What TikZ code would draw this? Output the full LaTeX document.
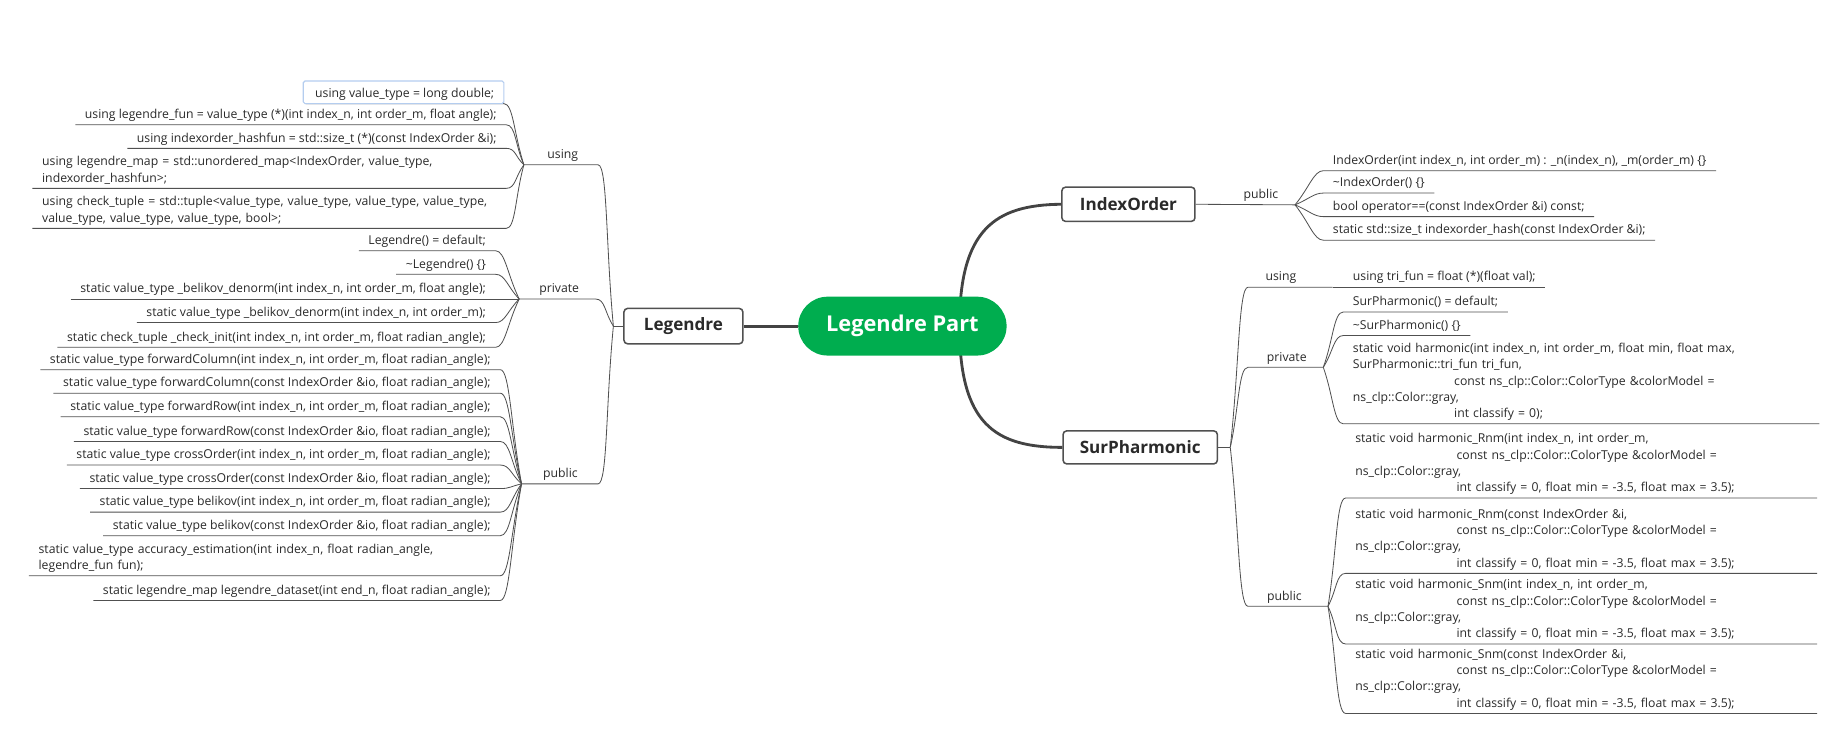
\documentclass[tikz,border=0pt]{standalone}
\usepackage{fontspec}
\setmainfont{Open Sans}
\usetikzlibrary{calc}
\definecolor{lineC}{HTML}{505050}
\definecolor{txtC}{HTML}{2A2A2A}
\definecolor{rootG}{HTML}{00AD4F}
\definecolor{selB}{HTML}{B4CDEF}
\definecolor{thickC}{HTML}{434343}
\newcommand\myind{\hspace*{86pt}}
% left child: [opts]{name}{right x}{underline y}{junction}{text}
\newcommand\LL[6][]{%
  \node[leaf,anchor=south east,#1] (#2) at (#3,#4) {#6\strut};
  \draw[conn] (#2.south west) -- (#2.south east) .. controls ($(#2.south east)+(8,0)$) and ($(#2.south east)!0.5!(#5)$) .. (#5);}
% right child: [opts]{name}{left x}{underline y}{junction}{text}
\newcommand\RR[6][]{%
  \node[leaf,anchor=south west,#1] (#2) at (#3,#4) {#6\strut};
  \draw[conn] (#5) .. controls ($(#2.south west)!0.5!(#5)$) and ($(#2.south west)+(-8,0)$) .. (#2.south west) -- (#2.south east);}
\begin{document}
\begin{tikzpicture}[x=1pt,y=-1pt,
  leaf/.style={font=\fontsize{10.4}{13.8}\selectfont,text=txtC,inner xsep=8pt,inner ysep=1pt,align=left},
  catlab/.style={font=\fontsize{10.4}{13.8}\selectfont,text=txtC,inner sep=1pt},
  conn/.style={draw=lineC,line width=0.7pt},
  selframe/.style={draw=selB,line width=1pt,rounded corners=1.5pt},
  topic/.style={draw=lineC,line width=1.3pt,rounded corners=3pt,fill=white,text=txtC,font=\fontsize{14.5}{16}\selectfont\bfseries,inner sep=0pt},
  bigconn/.style={draw=thickC,line width=2.4pt},
  rootnode/.style={fill=rootG,rounded corners=25pt,text=white,font=\fontsize{18.5}{20}\selectfont\bfseries,minimum width=177pt,minimum height=50pt,inner sep=0pt}]
\useasboundingbox (0,0) rectangle (1568,632);

% ---- main topics
\coordinate (S) at (815,277);
\node[topic,minimum width=101pt,minimum height=30pt] (leg) at (580.5,277) {Legendre};
\node[topic,minimum width=113pt,minimum height=29pt] (idx) at (958.5,173.5) {IndexOrder};
\node[topic,minimum width=131pt,minimum height=28pt] (sur) at (968.5,380) {SurPharmonic};
\draw[bigconn] (S) .. controls (815,195) and (845,174) .. (idx.west);
\draw[bigconn] (S) .. controls (815,360) and (845,380) .. (sur.west);
\node[rootnode] (root) at (766.5,277) {Legendre Part};
\draw[bigconn] (leg.east) -- (root.west);

% ---- Legendre side
\coordinate (JL) at (521,277);
\draw[conn] (leg.west) -- (JL);

% using
\coordinate (Ju) at (445,140);
\coordinate (Eu) at (508,140);
\node[catlab,anchor=south] (cu) at (478,140) {using\strut};
\draw[conn] (Ju) -- (Eu) .. controls ($(Eu)+(8,0)$) and ($(Eu)!0.5!(JL)$) .. (JL);
\LL{u1}{428}{88}{Ju}{using value\_type = long double;}
\draw[selframe] ([xshift=-2pt,yshift=3pt]u1.north west) rectangle (u1.south east);
\LL{u2}{430}{106}{Ju}{using legendre\_fun = value\_type (*)(int index\_n, int order\_m, float angle);}
\LL{u3}{430}{126}{Ju}{using indexorder\_hashfun = std::size\_t (*)(const IndexOrder \&i);}
\LL[text width=386pt]{u4}{430}{160}{Ju}{using legendre\_map = std::unordered\_map<IndexOrder, value\_type,\\indexorder\_hashfun>;}
\LL[text width=386pt]{u5}{430}{194}{Ju}{using check\_tuple = std::tuple<value\_type, value\_type, value\_type, value\_type,\\value\_type, value\_type, value\_type, bool>;}

% private
\coordinate (Jp) at (441,254);
\coordinate (Ep) at (506,254);
\node[catlab,anchor=south] (cp) at (475,254) {private\strut};
\draw[conn] (Jp) -- (Ep) .. controls ($(Ep)+(8,0)$) and ($(Ep)!0.5!(JL)$) .. (JL);
\LL{p1}{421}{213}{Jp}{Legendre() = default;}
\LL{p2}{421}{233}{Jp}{\textasciitilde Legendre() \{\}}
\LL{p3}{421}{254}{Jp}{static value\_type \_belikov\_denorm(int index\_n, int order\_m, float angle);}
\LL{p4}{421}{274}{Jp}{static value\_type \_belikov\_denorm(int index\_n, int order\_m);}
\LL{p5}{421}{295}{Jp}{static check\_tuple \_check\_init(int index\_n, int order\_m, float radian\_angle);}

% public
\coordinate (Jq) at (443,411);
\coordinate (Eq) at (508,411);
\node[catlab,anchor=south] (cq) at (476,411) {public\strut};
\draw[conn] (Jq) -- (Eq) .. controls ($(Eq)+(8,0)$) and ($(Eq)!0.5!(JL)$) .. (JL);
\LL{q1}{425}{314}{Jq}{static value\_type forwardColumn(int index\_n, int order\_m, float radian\_angle);}
\LL{q2}{425}{334}{Jq}{static value\_type forwardColumn(const IndexOrder \&io, float radian\_angle);}
\LL{q3}{425}{354}{Jq}{static value\_type forwardRow(int index\_n, int order\_m, float radian\_angle);}
\LL{q4}{425}{375}{Jq}{static value\_type forwardRow(const IndexOrder \&io, float radian\_angle);}
\LL{q5}{425}{395}{Jq}{static value\_type crossOrder(int index\_n, int order\_m, float radian\_angle);}
\LL{q6}{425}{415}{Jq}{static value\_type crossOrder(const IndexOrder \&io, float radian\_angle);}
\LL{q7}{425}{435}{Jq}{static value\_type belikov(int index\_n, int order\_m, float radian\_angle);}
\LL{q8}{425}{455}{Jq}{static value\_type belikov(const IndexOrder \&io, float radian\_angle);}
\LL[text width=384pt]{q9}{425}{489}{Jq}{static value\_type accuracy\_estimation(int index\_n, float radian\_angle,\\legendre\_fun fun);}
\LL{q10}{425}{510}{Jq}{static legendre\_map legendre\_dataset(int end\_n, float radian\_angle);}

% ---- IndexOrder side
\coordinate (JI) at (1100,174);
\draw[conn] (idx.east) -- (JI);
\node[catlab,anchor=south] (ci) at (1071,174) {public\strut};
\RR{i1}{1124}{145}{JI}{IndexOrder(int index\_n, int order\_m) : \_n(index\_n), \_m(order\_m) \{\}}
\RR{i2}{1124}{164}{JI}{\textasciitilde IndexOrder() \{\}}
\RR{i3}{1124}{184}{JI}{bool operator==(const IndexOrder \&i) const;}
\RR{i4}{1124}{204}{JI}{static std::size\_t indexorder\_hash(const IndexOrder \&i);}

% ---- SurPharmonic side
\coordinate (Js) at (1045,380);
\draw[conn] (sur.east) -- (Js);
% using
\coordinate (Su) at (1060,244);
\coordinate (JSu) at (1132,244);
\draw[conn] (Js) .. controls ($(Su)!0.5!(Js)$) and ($(Su)+(-8,0)$) .. (Su) -- (JSu);
\node[catlab,anchor=south] (csu) at (1088,244) {using\strut};
\RR{s0}{1141}{244}{JSu}{using tri\_fun = float (*)(float val);}
% private
\coordinate (Sp) at (1060,312);
\coordinate (JSp) at (1124,312);
\draw[conn] (Js) .. controls ($(Sp)!0.5!(Js)$) and ($(Sp)+(-8,0)$) .. (Sp) -- (JSp);
\node[catlab,anchor=south] (csp) at (1093,312) {private\strut};
\RR{s1}{1141}{265}{JSp}{SurPharmonic() = default;}
\RR{s2}{1141}{285}{JSp}{\textasciitilde SurPharmonic() \{\}}
\RR[text width=388pt]{s3}{1141}{360}{JSp}{static void harmonic(int index\_n, int order\_m, float min, float max,\\SurPharmonic::tri\_fun tri\_fun,\\\myind const ns\_clp::Color::ColorType \&colorModel =\\ns\_clp::Color::gray,\\\myind int classify = 0);}
% public
\coordinate (Sq) at (1060,515);
\coordinate (JSq) at (1128,515);
\draw[conn] (Js) .. controls ($(Sq)!0.5!(Js)$) and ($(Sq)+(-8,0)$) .. (Sq) -- (JSq);
\node[catlab,anchor=south] (csq) at (1091,515) {public\strut};
\RR[text width=384pt]{s4}{1143}{423}{JSq}{static void harmonic\_Rnm(int index\_n, int order\_m,\\\myind const ns\_clp::Color::ColorType \&colorModel =\\ns\_clp::Color::gray,\\\myind int classify = 0, float min = -3.5, float max = 3.5);}
\RR[text width=384pt]{s5}{1143}{487}{JSq}{static void harmonic\_Rnm(const IndexOrder \&i,\\\myind const ns\_clp::Color::ColorType \&colorModel =\\ns\_clp::Color::gray,\\\myind int classify = 0, float min = -3.5, float max = 3.5);}
\RR[text width=384pt]{s6}{1143}{547}{JSq}{static void harmonic\_Snm(int index\_n, int order\_m,\\\myind const ns\_clp::Color::ColorType \&colorModel =\\ns\_clp::Color::gray,\\\myind int classify = 0, float min = -3.5, float max = 3.5);}
\RR[text width=384pt]{s7}{1143}{606}{JSq}{static void harmonic\_Snm(const IndexOrder \&i,\\\myind const ns\_clp::Color::ColorType \&colorModel =\\ns\_clp::Color::gray,\\\myind int classify = 0, float min = -3.5, float max = 3.5);}
\end{tikzpicture}
\end{document}
